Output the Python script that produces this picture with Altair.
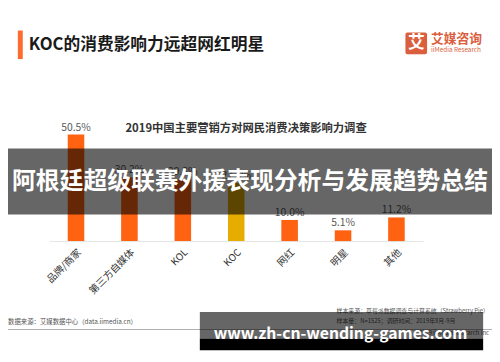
import altair as alt
import pandas as pd

# ---- data ----
categories = ["品牌/商家", "第三方自媒体", "KOL", "KOC", "网红", "明星", "其他"]
values = [50.5, 30.2, 29.3, 27.5, 10.0, 5.1, 11.2]
bar_colors = ["#FF6210", "#FF6210", "#FF6210", "#E6AD00", "#FF6210", "#FF6210", "#FF6210"]

main_title = "KOC的消费影响力远超网红明星"
chart_title = "2019中国主要营销方对网民消费决策影响力调查"
banner_text = "阿根廷超级联赛外援表现分析与发展趋势总结"
url_text = "www.zh-cn-wending-games.com"
source_left = "数据来源：艾媒数据中心（data.iimedia.cn）"
source_right_1 = "样本来源：草莓派数据调查与计算系统（Strawberry Pie）"
source_right_2 = "样本量：N=1525；调研时间：2019年8月-9月"
source_right_3 = "©2019 iiMedia Research Inc"
logo_char = "艾"
logo_cn = "艾媒咨询"
logo_en = "iiMedia Research"

FONT = "Noto Sans CJK SC"

df = pd.DataFrame({"category": categories, "value": values, "color": bar_colors})
one = pd.DataFrame({"k": [0]})

xenc = alt.X(
    "category:N",
    sort=categories,
    scale=alt.Scale(paddingInner=0.69, paddingOuter=0.345),
    axis=alt.Axis(
        title=None, labelAngle=-45, labelFontSize=10, labelColor="#333333",
        labelFont=FONT, ticks=False, domainColor="#E3E3E3", domainWidth=1,
        labelPadding=6,
    ),
)
yenc = alt.Y("value:Q", scale=alt.Scale(domain=[0, 55]), axis=None)

base = alt.Chart(df)
bars = base.mark_bar().encode(x=xenc, y=yenc, color=alt.Color("color:N", scale=None))
labels = base.transform_calculate(
    label="format(datum.value, '.1f') + '%'"
).mark_text(baseline="bottom", dy=-2, fontSize=10.5, color="#595959", font=FONT).encode(
    x=alt.X("category:N", sort=categories), y="value:Q", text="label:N"
)


def rect(x, x2, y, y2, color, opacity=1.0, radius=0):
    return alt.Chart(one).mark_rect(color=color, opacity=opacity, cornerRadius=radius).encode(
        x=alt.value(x), x2=alt.value(x2), y=alt.value(y), y2=alt.value(y2)
    )


def text(t, x, y, size, color, weight="normal", align="left", baseline="middle"):
    return alt.Chart(one).mark_text(
        text=t, fontSize=size, color=color, fontWeight=weight, align=align,
        baseline=baseline, font=FONT,
    ).encode(x=alt.value(x), y=alt.value(y))


decor = [
    rect(-32, -27, -96, -67, "#FF6A2E"),
    text(main_title, -21, -81, 17, "#1A1A1A", weight="bold"),
    rect(362, 384, -94, -72, "#DA5F3E", radius=2),
    text(logo_char, 373, -83, 17, "#FFFFFF", weight="bold", align="center"),
    text(logo_cn, 388, -87, 13, "#DA5F3E", weight="bold"),
    text(logo_en, 388, -76, 6.5, "#DA5F3E"),
    text(chart_title, 200, 4, 11.5, "#333333", weight="bold", align="center"),
]

footer = [
    rect(-42, 450, 207.5, 208.5, "#B0B0B0"),
    text(source_left, -42, 200, 6.5, "#555555"),
    text(source_right_1, 292, 189, 6, "#555555"),
    text(source_right_2, 292, 199, 6, "#555555"),
    text(source_right_3, 447, 211, 6, "#555555", align="right"),
]

overlay = [
    rect(-42, 450, 24, 91, "#000000", opacity=0.6),
    text(banner_text, 204, 58, 24.2, "#FFFFFF", weight="bold", align="center"),
    rect(153, 441, 190, 217, "#000000", opacity=0.6),
    rect(153, 441, 217, 229, "#000000"),
    text(url_text, 296, 213, 16, "#FFFFFF", weight="bold", align="center"),
]

chart = alt.layer(bars, labels, *decor, *footer, *overlay).properties(
    width=380,
    height=118,
    autosize=alt.AutoSizeParams(type="none"),
    padding={"left": 42, "top": 116, "right": 70, "bottom": 120},
    background="#FFFFFF",
).configure_view(stroke=None)

chart.save("out.html", embed_options={"renderer": "svg", "actions": False})
